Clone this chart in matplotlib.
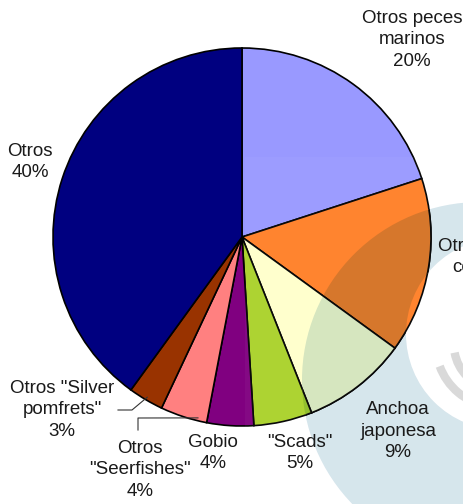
import numpy as np
import matplotlib
matplotlib.use("Agg")
import matplotlib.pyplot as plt
from matplotlib.patches import Wedge, PathPatch, Rectangle, Arc
from matplotlib.path import Path
from matplotlib.colors import to_rgb

# Catch composition (share of total, %)
categories = ['Otros peces\nmarinos', 'Otros moluscos\ncefalópodos', 'Anchoa\njaponesa',
              '"Scads"', 'Gobio', 'Otros\n"Seerfishes"', 'Otros "Silver\npomfrets"', 'Otros']
shares = [20, 15, 9, 5, 4, 4, 3, 40]
colors = ['#9999FF', '#FF7F27', '#FFFFCC', '#AAD22A', '#800080', '#FF8080', '#993300', '#000080']

# label anchor positions (pixels from top-left)
label_pos = [(412, 40), (503, 268), (398, 431), (300, 453), (213, 453),
             (140, 470), (62, 410), (30, 162)]

W, H = 463, 504
fig = plt.figure(figsize=(W / 100, H / 100), dpi=100)
ax = fig.add_axes([0, 0, 1, 1])


def P(x, y):
    return (x, H - y)


cx, cy = P(242, 237)
R = 189
EDGE_LW = 1.2


def reversed_circle(center, r):
    c = Path.circle(center, r)
    v = c.vertices[:-1][::-1]
    codes = [Path.MOVETO] + [Path.CURVE4] * (len(v) - 1) + [Path.CLOSEPOLY]
    return Path(np.vstack([v, v[:1]]), codes)


# background emblem: crescent band
outer = Path.circle(P(480, 380), 178)
inner = reversed_circle(P(502, 334), 96)
crescent = Path.make_compound_path(outer, inner)
tint = np.array([213, 229, 236]) / 255
ax.add_patch(PathPatch(crescent, facecolor=tint, edgecolor='none', zorder=0))
for r, t1, t2 in [(62, 200, 320), (44, 190, 330)]:
    ax.add_patch(Arc(P(498, 345), 2 * r, 2 * r, theta1=t1, theta2=t2,
                     color='#d8d8d8', lw=6, zorder=0.5))

wedges, _ = ax.pie(shares, colors=colors, startangle=90, counterclock=False,
                   center=(cx, cy), radius=R,
                   wedgeprops=dict(edgecolor='black', linewidth=EDGE_LW),
                   frame=True)
ax.set_xlim(0, W)
ax.set_ylim(0, H)
ax.set_aspect('equal')
ax.axis('off')
for w in wedges:
    w.set_zorder(1)

# emblem tint multiplied over the slices
clip = PathPatch(crescent, transform=ax.transData, facecolor='none', edgecolor='none')
ax.add_patch(clip)
for w, col in zip(wedges, colors):
    tw = Wedge(w.center, w.r, w.theta1, w.theta2,
               facecolor=np.array(to_rgb(col)) * tint,
               edgecolor='black', linewidth=EDGE_LW, zorder=2)
    ax.add_patch(tw)
    tw.set_clip_path(clip)

# faint light box of the emblem
ax.add_patch(Rectangle(P(245, 504), W, H - 157, facecolor='white', alpha=0.04,
                       edgecolor='none', zorder=3))

# labels
for name, val, (lx, ly) in zip(categories, shares, label_pos):
    ax.text(*P(lx, ly), f'{name}\n{val}%', ha='center', va='center',
            family='Liberation Sans', fontsize=13.5, color='#1a1a1a',
            linespacing=1.32, zorder=5)

# leader lines for the two thin slices
cum = np.cumsum([0] + shares)


def edge_point(i, frac=0.5, rr=0.985):
    ang = np.deg2rad(90 - 360 * (cum[i] + frac * shares[i]) / 100)
    return cx + R * rr * np.cos(ang), cy + R * rr * np.sin(ang)


ex, ey = edge_point(6)
ax.plot([P(118, 410)[0], P(132, 410)[0], ex], [P(118, 410)[1], P(132, 410)[1], ey],
        color='#333333', lw=0.8, zorder=4)
ex, ey = edge_point(5, frac=0.2)
ax.plot([P(138, 430)[0], P(138, 418)[0], ex], [P(138, 430)[1], P(138, 418)[1], ey],
        color='#333333', lw=0.8, zorder=4)

fig.savefig('out.png', dpi=100)
